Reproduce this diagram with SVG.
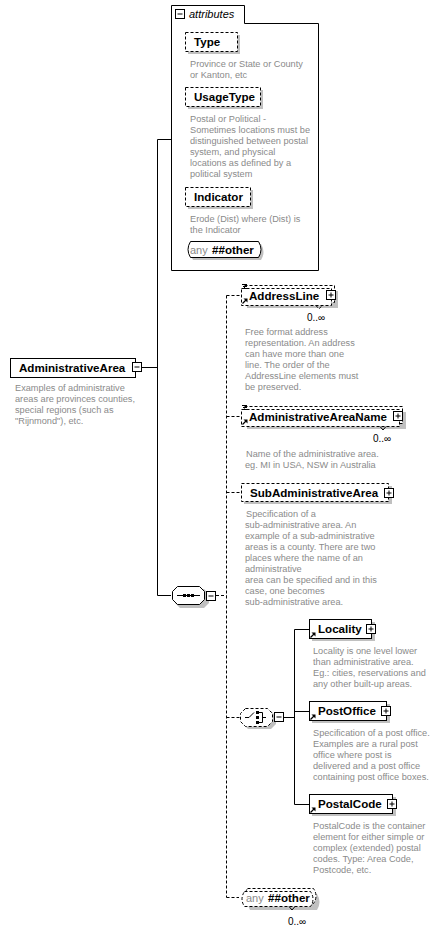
<svg xmlns="http://www.w3.org/2000/svg" width="442" height="932" viewBox="0 0 442 932">
<style>
.bg{fill:#ffffff}
.box{fill:#ffffff;stroke:#000;stroke-width:1}
.dbox{fill:#ffffff;stroke:#000;stroke-width:1;stroke-dasharray:3,2}
.sh{fill:#c0c0c0;stroke:none}
.name{font-family:"Liberation Sans",Arial,sans-serif;font-weight:bold;font-size:11.6px;fill:#000}
.desc{font-family:"Liberation Sans",Arial,sans-serif;font-size:9.2px;fill:#8a8a8a}
.occ{font-family:"Liberation Sans",Arial,sans-serif;font-size:10px;fill:#000}
.any{font-family:"Liberation Sans",Arial,sans-serif;font-size:11px;fill:#8a8a8a}
.ital{font-family:"Liberation Sans",Arial,sans-serif;font-style:italic;font-size:11px;fill:#000}
.ln{fill:none;stroke:#000;stroke-width:1}
.dln{fill:none;stroke:#000;stroke-width:1;stroke-dasharray:3,2}
.icon{fill:#fff;stroke:#000;stroke-width:1}
</style>
<defs>
<g id="plus"><rect class="icon" x="0.5" y="0.5" width="9" height="9"/><path class="ln" d="M2.5,5H7.5M5,2.5V7.5"/></g>
<g id="minus"><rect class="icon" x="0.5" y="0.5" width="9" height="9"/><path class="ln" d="M2.5,5H7.5"/></g>
<g id="ref"><path d="M0.5,5.5L4,2" stroke="#000" stroke-width="1.2"/><path d="M1.5,0.5H5.5V4.5Z" fill="#000"/></g>
<g id="txt"><path class="ln" d="M0,0.5H5M1,2.5H5M2,4.5H5"/></g>
</defs>
<rect class="bg" x="0" y="0" width="442" height="932"/>

<g id="connectors">
<path class="ln" d="M142,367.5H157.5M157.5,139.5V595.5M157.5,139.5H171M157.5,595.5H171"/>
<path class="dln" d="M216,595.5H226.5M226.5,295.5V897.5M226.5,295.5H241M226.5,416.5H241M226.5,492.5H241M226.5,717.5H240M226.5,897.5H239"/>
<path class="ln" d="M284,717.5H294.5M294.5,629.5V804.5M294.5,629.5H309M294.5,711.5H309M294.5,804.5H309"/>
</g>

<g id="AdministrativeArea">
<rect class="box" x="10.5" y="358.5" width="125" height="19"/>
<text class="name" x="19" y="372">AdministrativeArea</text>
<use href="#minus" x="132" y="362"/>
<text class="desc"><tspan x="15" y="391">Examples of administrative</tspan><tspan x="15" y="402">areas are provinces counties,</tspan><tspan x="15" y="413">special regions (such as</tspan><tspan x="15" y="424">"Rijnmond"), etc.</tspan></text>
</g>

<g id="attributes">
<path class="box" d="M171.5,270.5V5.5H244.5V23.5H318.5V270.5Z"/>
<use href="#minus" x="175" y="9"/>
<text class="ital" x="189" y="18">attributes</text>
</g>

<g id="attr-Type">
<rect class="sh" x="188" y="35" width="52" height="19"/>
<rect class="dbox" x="185.5" y="32.5" width="52" height="19"/>
<text class="name" x="194" y="46">Type</text>
<text class="desc"><tspan x="190" y="67">Province or State or County</tspan><tspan x="190" y="78">or Kanton, etc</tspan></text>
</g>

<g id="attr-UsageType">
<rect class="sh" x="188" y="90" width="75" height="19"/>
<rect class="dbox" x="185.5" y="87.5" width="75" height="19"/>
<text class="name" x="194" y="101">UsageType</text>
<text class="desc"><tspan x="190" y="122">Postal or Political -</tspan><tspan x="190" y="133">Sometimes locations must be</tspan><tspan x="190" y="144">distinguished between postal</tspan><tspan x="190" y="155">system, and physical</tspan><tspan x="190" y="166">locations as defined by a</tspan><tspan x="190" y="177">political system</tspan></text>
</g>

<g id="attr-Indicator">
<rect class="sh" x="188" y="190" width="65" height="19"/>
<rect class="dbox" x="185.5" y="187.5" width="65" height="19"/>
<text class="name" x="194" y="201">Indicator</text>
<text class="desc"><tspan x="190" y="222">Erode (Dist) where (Dist) is</tspan><tspan x="190" y="233">the Indicator</tspan></text>
</g>

<g id="attr-any">
<path class="sh" d="M193,244H261Q266,252 261,260H193Q188,252 193,244Z"/>
<path class="box" d="M190.5,241.5H258.5Q263.5,249.5 258.5,257.5H190.5Q185.5,249.5 190.5,241.5Z"/>
<text class="any" x="190" y="254">any</text>
<text class="name" x="212" y="254">##other</text>
</g>

<g id="sequence">
<path class="sh" d="M180,589H204L209,594V603L204,608H180L175,603V594Z"/>
<path class="box" d="M177.5,586.5H199.5L204.5,591.5V599.5L199.5,604.5H177.5L172.5,599.5V591.5Z"/>
<path class="ln" d="M177,595.5H200"/>
<rect x="183" y="594" width="3" height="3" fill="#000"/>
<rect x="187" y="594" width="3" height="3" fill="#000"/>
<rect x="191" y="594" width="3" height="3" fill="#000"/>
<use href="#minus" x="206" y="591"/>
</g>

<g id="AddressLine">
<rect class="sh" x="247" y="291" width="91" height="17"/>
<rect class="dbox" x="244.5" y="285.5" width="90" height="17"/>
<rect class="dbox" x="241.5" y="288.5" width="90" height="17"/>
<path class="dln" d="M316,305.5L319,309L322,305.5" stroke-dasharray="none"/>
<use href="#txt" x="242" y="284"/>
<use href="#ref" x="242" y="298"/>
<text class="name" x="249" y="300">AddressLine</text>
<use href="#plus" x="326" y="290"/>
<text class="occ" x="307" y="321">0..∞</text>
<text class="desc"><tspan x="245" y="335">Free format address</tspan><tspan x="245" y="346">representation. An address</tspan><tspan x="245" y="357">can have more than one</tspan><tspan x="245" y="368">line. The order of the</tspan><tspan x="245" y="379">AddressLine elements must</tspan><tspan x="245" y="390">be preserved.</tspan></text>
</g>

<g id="AdministrativeAreaName">
<rect class="sh" x="247" y="412" width="159" height="17"/>
<rect class="dbox" x="244.5" y="406.5" width="158" height="17"/>
<rect class="dbox" x="241.5" y="409.5" width="158" height="17"/>
<path class="ln" d="M380,426.5L383,430L386,426.5"/>
<use href="#txt" x="242" y="405"/>
<use href="#ref" x="242" y="419"/>
<text class="name" x="249" y="421">AdministrativeAreaName</text>
<use href="#plus" x="393" y="411"/>
<text class="occ" x="373" y="442">0..∞</text>
<text class="desc"><tspan x="246" y="457"> Name of the administrative area.</tspan><tspan x="245" y="468">eg. MI in USA, NSW in Australia</tspan></text>
</g>

<g id="SubAdministrativeArea">
<rect class="sh" x="244" y="486" width="148" height="18"/>
<rect class="dbox" x="241.5" y="483.5" width="147" height="18"/>
<text class="name" x="250" y="497">SubAdministrativeArea</text>
<use href="#plus" x="384" y="488"/>
<text class="desc"><tspan x="246" y="517"> Specification of a</tspan><tspan x="245" y="528">sub-administrative area. An</tspan><tspan x="245" y="539">example of a sub-administrative</tspan><tspan x="245" y="550">areas is a county. There are two</tspan><tspan x="245" y="561">places where the name of an</tspan><tspan x="245" y="572">administrative</tspan><tspan x="245" y="583">area can be specified and in this</tspan><tspan x="245" y="594">case, one becomes</tspan><tspan x="245" y="605">sub-administrative area.</tspan></text>
</g>

<g id="choice">
<path class="sh" d="M248,711H271L276,716V724L271,729H248L243,724V716Z"/>
<path class="dbox" d="M245.5,708.5H267.5L272.5,713.5V721.5L267.5,726.5H245.5L240.5,721.5V713.5Z"/>
<path class="ln" d="M245,717.5H249L254,712.5"/>
<rect x="256" y="711" width="3" height="3" fill="#000"/>
<rect x="256" y="716" width="3" height="3" fill="#000"/>
<rect x="256" y="721" width="3" height="3" fill="#000"/>
<path class="ln" d="M259,712.5H262.5V722.5H259M262.5,717.5H266"/>
<use href="#minus" x="274" y="712"/>
</g>

<g id="Locality">
<rect class="sh" x="312" y="622" width="63" height="19"/>
<rect class="box" x="309.5" y="619.5" width="62" height="19"/>
<use href="#ref" x="310" y="632"/>
<text class="name" x="318" y="633">Locality</text>
<use href="#plus" x="366" y="624"/>
<text class="desc"><tspan x="313" y="654">Locality is one level lower</tspan><tspan x="313" y="665">than administrative area.</tspan><tspan x="313" y="676">Eg.: cities, reservations and</tspan><tspan x="313" y="687">any other built-up areas.</tspan></text>
</g>

<g id="PostOffice">
<rect class="sh" x="312" y="704" width="78" height="19"/>
<rect class="box" x="309.5" y="701.5" width="77" height="19"/>
<use href="#ref" x="310" y="714"/>
<text class="name" x="318" y="715">PostOffice</text>
<use href="#plus" x="381" y="706"/>
<text class="desc"><tspan x="313" y="736">Specification of a post office.</tspan><tspan x="313" y="747">Examples are a rural post</tspan><tspan x="313" y="758">office where post is</tspan><tspan x="313" y="769">delivered and a post office</tspan><tspan x="313" y="780">containing post office boxes.</tspan></text>
</g>

<g id="PostalCode">
<rect class="sh" x="312" y="797" width="84" height="19"/>
<rect class="box" x="309.5" y="794.5" width="83" height="19"/>
<use href="#ref" x="310" y="807"/>
<text class="name" x="318" y="808">PostalCode</text>
<use href="#plus" x="387" y="799"/>
<text class="desc"><tspan x="313" y="829">PostalCode is the container</tspan><tspan x="313" y="840">element for either simple or</tspan><tspan x="313" y="851">complex (extended) postal</tspan><tspan x="313" y="862">codes. Type: Area Code,</tspan><tspan x="313" y="873">Postcode, etc.</tspan></text>
</g>

<g id="any-other">
<path class="sh" d="M250,894H317Q322,902 317,910H250Q245,902 250,894Z"/>
<path class="dbox" d="M247.5,888.5H313.5Q318.5,896 313.5,903.5H247.5Q242.5,896 247.5,888.5Z"/>
<path class="dbox" d="M244.5,891.5H310.5Q315.5,899 310.5,906.5H244.5Q239.5,899 244.5,891.5Z"/>
<path class="ln" d="M289,906.5L292,910L295,906.5"/>
<text class="any" x="246" y="902">any</text>
<text class="name" x="268" y="902">##other</text>
<text class="occ" x="288" y="925">0..∞</text>
</g>
</svg>
